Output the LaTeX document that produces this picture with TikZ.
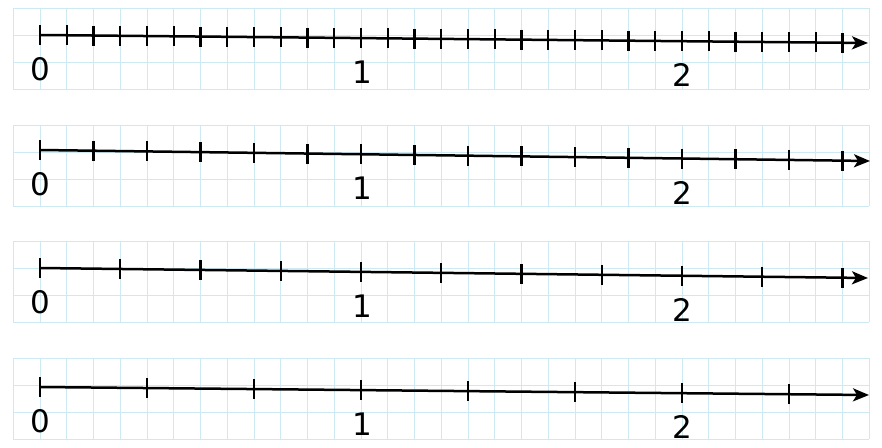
\documentclass[tikz,border=0pt]{standalone}
\usepackage{fontspec}
\setmainfont{DejaVu Sans}
\usetikzlibrary{arrows.meta,calc}
\definecolor{gridblue}{RGB}{205,233,241}
\begin{document}
\begin{tikzpicture}[x=1pt,y=-1pt,
  numline/.style={line width=2.5pt,-{Stealth[length=16pt,width=13pt,inset=4pt]}},
  tickmark/.style={line width=2.4pt},
  gridline/.style={draw=gridblue,line width=0.8pt},
  lab/.style={font=\fontsize{31}{31}\selectfont,inner sep=0pt,anchor=center}]
\useasboundingbox (0,0) rectangle (882,447);
\fill[white] (0,0) rectangle (882,447);
% graph-paper strips
\foreach \L in {35,152,268,385}{
  \foreach \k in {0,...,32}
    \draw[gridline] ({13.25+26.75*\k},{\L-27}) -- ({13.25+26.75*\k},{\L+54});
  \foreach \j in {-1,0,1,2}
    \draw[gridline] (13.25,{\L+27*\j}) -- (869.25,{\L+27*\j});
}
% number lines: index / start y / end x / end y / number of ticks / tick spacing
\foreach \i/\ys/\xe/\ye/\n/\d in {1/35/868/43/30/26.75, 2/150/870/161/15/53.5, 3/268/868/278/10/80.25, 4/387/869/395/7/107}{
  \coordinate (s\i) at (40,\ys);
  \coordinate (e\i) at (\xe,\ye);
  \draw[numline] (s\i) -- (e\i);
  \pgfmathsetmacro\len{\xe-40}
  \foreach \k in {0,...,\n}{
    \pgfmathsetmacro\f{\d*\k/\len}
    \draw[tickmark] ($(s\i)!\f!(e\i)+(0,-10)$) -- ($(s\i)!\f!(e\i)+(0,10)$);
  }
  \pgfmathsetmacro\fa{321/\len}
  \pgfmathsetmacro\fb{642/\len}
  \node[lab] (zero\i) at ($(s\i)+(0,34)$) {0};
  \node[lab] (one\i) at ($(s\i)!\fa!(e\i)+(1,34)$) {1};
  \node[lab] (two\i) at ($(s\i)!\fb!(e\i)+(0,34)$) {2};
}
\end{tikzpicture}
\end{document}
